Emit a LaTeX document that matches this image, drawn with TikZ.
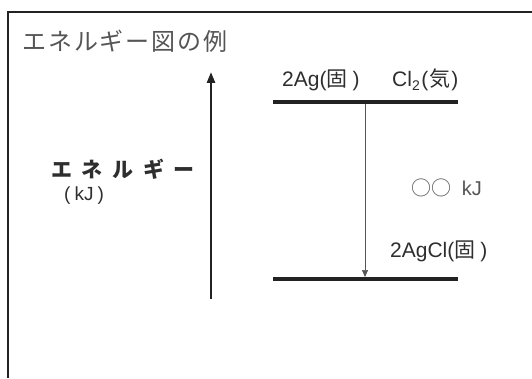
\documentclass[tikz,border=0pt]{standalone}
\usepackage{fontspec}
\setmainfont{Liberation Sans}
\newfontfamily\jp{Noto Sans CJK JP}
\usetikzlibrary{arrows.meta}
\definecolor{ink}{HTML}{2E2E2E}
\definecolor{soft}{HTML}{555555}
\definecolor{lineink}{HTML}{222222}
\tikzset{
  lbl/.style={inner sep=0pt, text=ink, font=\fontsize{21}{24}\selectfont, anchor=base west},
  level/.style={draw=lineink, line width=3.5pt},
}
\begin{document}
\begin{tikzpicture}[x=1pt,y=1pt]
\useasboundingbox (0,0) rectangle (532,378);
% frame (top and left only visible)
\draw[lineink, line width=1.6pt] (8,0) -- (8,366) -- (532,366);
% title
\node[inner sep=0pt, anchor=base west, text=soft] (title) at (22,327)
  {\jp\fontsize{24}{28}\selectfont\addfontfeature{LetterSpace=8}エネルギー図の例};
% energy axis
\coordinate (ax0) at (211,79);
\coordinate (ax1) at (211,306);
\draw[lineink, line width=2.6pt, -{Triangle[length=11pt,width=8pt]}] (ax0) -- (ax1);
\node[inner sep=0pt, anchor=base west, text=ink] (elab) at (51,201)
  {\jp\bfseries\fontsize{21}{24}\selectfont\addfontfeature{LetterSpace=46}エネルギー};
\node[lbl, font=\fontsize{19}{22}\selectfont] (kj) at (64,178) {(\hspace{4pt}kJ\hspace{4pt})};
% levels
\coordinate (t1) at (273,276);
\coordinate (t2) at (458,276);
\coordinate (b1) at (273,99);
\coordinate (b2) at (458,99);
\draw[level] (t1) -- (t2);
\draw[level] (b1) -- (b2);
\coordinate (tm) at (365,274);
\coordinate (bm) at (365,101);
\draw[soft, line width=0.5pt, -{Triangle[length=7pt,width=6pt]}] (tm) -- (bm);
% labels
\node[lbl] (ag) at (282,291) {2Ag({\jp 固}\hspace{5pt})};
\node[lbl] (cl) at (392,291) {Cl$_{\mbox{\fontsize{14}{15}\selectfont 2}}$\hspace{1pt}(\hspace{1pt}{\jp 気}\hspace{1pt})};
\node[lbl, text=soft, font=\fontsize{20}{23}\selectfont] (dh) at (411,183) {{\jp ○○}\hspace{5pt} kJ};
\node[lbl] (agcl) at (390,121) {2AgCl({\jp 固}\hspace{5pt})};
\end{tikzpicture}
\end{document}
